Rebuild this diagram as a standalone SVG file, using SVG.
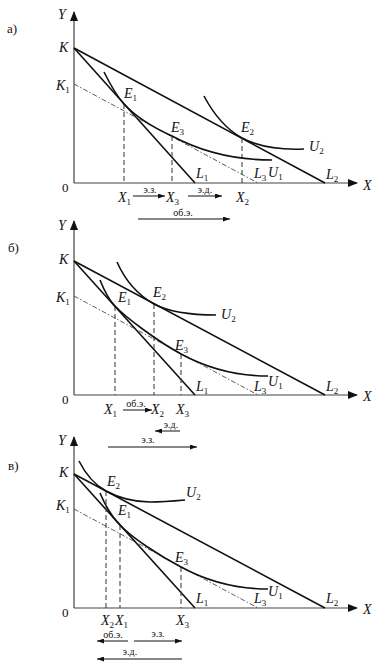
<svg xmlns="http://www.w3.org/2000/svg" width="385" height="666" viewBox="0 0 385 666">
<style>
.bg{fill:#fff}
.axis{stroke:#444;stroke-width:1.2;fill:none}
.line{stroke:#111;stroke-width:1.6;fill:none}
.curve{stroke:#111;stroke-width:1.6;fill:none}
.comp{stroke:#333;stroke-width:0.8;fill:none;stroke-dasharray:5 2 1.5 2}
.drop{stroke:#444;stroke-width:1.1;fill:none;stroke-dasharray:5 3}
.arr{stroke:#111;stroke-width:1;fill:none}
.v{font-family:"Liberation Serif","DejaVu Serif",serif;font-style:italic;font-size:14px;fill:#111}
.s{font-style:normal;font-size:9px}
.n{font-family:"Liberation Serif","DejaVu Serif",serif;font-size:13px;fill:#111}
.r{font-family:"Liberation Serif","DejaVu Serif",serif;font-size:10px;fill:#111;text-anchor:middle}
</style>
<defs>
<marker id="ax" markerUnits="userSpaceOnUse" markerWidth="10" markerHeight="8" refX="9" refY="4" orient="auto">
<path d="M0,0 L10,4 L0,8 Z" fill="#111"/>
</marker>
<marker id="sa" markerUnits="userSpaceOnUse" markerWidth="7" markerHeight="5" refX="7" refY="2.5" orient="auto">
<path d="M0,0 L7,2.5 L0,5 Z" fill="#111"/>
</marker>
</defs>
<rect class="bg" x="0" y="0" width="385" height="666"/>

<!-- Panel a -->
<g id="panel-a">
<text class="n" x="7" y="33">а)</text>
<g id="a-axes">
<line class="axis" x1="74" y1="183" x2="74" y2="12" marker-end="url(#ax)"/>
<line class="axis" x1="74" y1="183" x2="357" y2="183" marker-end="url(#ax)"/>
<text class="v" x="58" y="19">Y</text>
<text class="v" x="363" y="190">X</text>
<text class="n" x="62" y="192">0</text>
</g>
<g id="a-connectors">
<line class="line" x1="74" y1="48" x2="195" y2="183"/>
<line class="line" x1="74" y1="48" x2="325" y2="183"/>
<line class="comp" x1="74" y1="84" x2="258" y2="183"/>
<line class="drop" x1="124" y1="104" x2="124" y2="183"/>
<line class="drop" x1="172" y1="136" x2="172" y2="183"/>
<line class="drop" x1="242" y1="138" x2="242" y2="183"/>
<path class="curve" d="M104,72 C110,84 116,95 124,104 C136,117 152,127 172,136 C200,151 235,160 272,160"/>
<path class="curve" d="M204,96 C214,115 226,129 242,138 C260,147.7 280,150 304,149"/>
<line class="arr" x1="133" y1="196" x2="165" y2="196" marker-end="url(#sa)"/>
<line class="arr" x1="188" y1="196" x2="222" y2="196" marker-end="url(#sa)"/>
<line class="arr" x1="138" y1="219" x2="230" y2="219" marker-end="url(#sa)"/>
</g>
<g id="a-labels">
<text class="v" x="59" y="52">K</text>
<text class="v" x="56" y="90">K<tspan class="s" dy="3">1</tspan></text>
<text class="v" x="124" y="98">E<tspan class="s" dy="3">1</tspan></text>
<text class="v" x="171" y="132">E<tspan class="s" dy="3">3</tspan></text>
<text class="v" x="241" y="132">E<tspan class="s" dy="3">2</tspan></text>
<text class="v" x="309" y="151">U<tspan class="s" dy="3">2</tspan></text>
<text class="v" x="268" y="177">U<tspan class="s" dy="3">1</tspan></text>
<text class="v" x="196" y="178">L<tspan class="s" dy="2.5">1</tspan></text>
<text class="v" x="254" y="178">L<tspan class="s" dy="2.5">3</tspan></text>
<text class="v" x="326" y="179">L<tspan class="s" dy="2.5">2</tspan></text>
<text class="v" x="118" y="202">X<tspan class="s" dy="3">1</tspan></text>
<text class="v" x="166" y="202">X<tspan class="s" dy="3">3</tspan></text>
<text class="v" x="236" y="202">X<tspan class="s" dy="3">2</tspan></text>
<text class="r" x="150" y="193">э.з.</text>
<text class="r" x="205" y="193">э.д.</text>
<text class="r" x="183" y="216">об.э.</text>
</g>
</g>

<!-- Panel b -->
<g id="panel-b">
<text class="n" x="8" y="252">б)</text>
<g id="b-axes">
<line class="axis" x1="74" y1="395" x2="74" y2="221" marker-end="url(#ax)"/>
<line class="axis" x1="74" y1="395" x2="357" y2="395" marker-end="url(#ax)"/>
<text class="v" x="58" y="230">Y</text>
<text class="v" x="363" y="401">X</text>
<text class="n" x="62" y="404">0</text>
</g>
<g id="b-connectors">
<line class="line" x1="74" y1="261" x2="195" y2="395"/>
<line class="line" x1="74" y1="261" x2="325" y2="395"/>
<line class="comp" x1="74" y1="296" x2="258" y2="395"/>
<line class="drop" x1="115" y1="306" x2="115" y2="395"/>
<line class="drop" x1="154" y1="304" x2="154" y2="395"/>
<line class="drop" x1="181" y1="354" x2="181" y2="395"/>
<path class="curve" d="M100,280 C104,290 108,299 115,306 C126,318 159,342 181,354 C205,367 235,376 268,376"/>
<path class="curve" d="M117,262 C125,280 138,295 154,304 C170,312.5 190,315 216,315"/>
<line class="arr" x1="123" y1="410" x2="152" y2="410" marker-end="url(#sa)"/>
<line class="arr" x1="180" y1="431" x2="155" y2="431" marker-end="url(#sa)"/>
<line class="arr" x1="108" y1="447" x2="197" y2="447" marker-end="url(#sa)"/>
</g>
<g id="b-labels">
<text class="v" x="59" y="264">K</text>
<text class="v" x="56" y="302">K<tspan class="s" dy="3">1</tspan></text>
<text class="v" x="118" y="302">E<tspan class="s" dy="3">1</tspan></text>
<text class="v" x="153" y="297">E<tspan class="s" dy="3">2</tspan></text>
<text class="v" x="175" y="350">E<tspan class="s" dy="3">3</tspan></text>
<text class="v" x="221" y="319">U<tspan class="s" dy="3">2</tspan></text>
<text class="v" x="268" y="386">U<tspan class="s" dy="3">1</tspan></text>
<text class="v" x="196" y="391">L<tspan class="s" dy="2.5">1</tspan></text>
<text class="v" x="254" y="391">L<tspan class="s" dy="2.5">3</tspan></text>
<text class="v" x="326" y="391">L<tspan class="s" dy="2.5">2</tspan></text>
<text class="v" x="104" y="414">X<tspan class="s" dy="3">1</tspan></text>
<text class="v" x="151" y="414">X<tspan class="s" dy="3">2</tspan></text>
<text class="v" x="176" y="414">X<tspan class="s" dy="3">3</tspan></text>
<text class="r" x="136" y="407">об.э.</text>
<text class="r" x="171" y="428">э.д.</text>
<text class="r" x="148" y="443">э.з.</text>
</g>
</g>

<!-- Panel c -->
<g id="panel-c">
<text class="n" x="8" y="470">в)</text>
<g id="c-axes">
<line class="axis" x1="74" y1="608" x2="74" y2="437" marker-end="url(#ax)"/>
<line class="axis" x1="74" y1="608" x2="357" y2="608" marker-end="url(#ax)"/>
<text class="v" x="58" y="445">Y</text>
<text class="v" x="363" y="614">X</text>
<text class="n" x="62" y="617">0</text>
</g>
<g id="c-connectors">
<line class="line" x1="74" y1="474" x2="195" y2="608"/>
<line class="line" x1="74" y1="474" x2="325" y2="608"/>
<line class="comp" x1="74" y1="509" x2="258" y2="608"/>
<line class="drop" x1="106" y1="491" x2="106" y2="608"/>
<line class="drop" x1="120" y1="525" x2="120" y2="608"/>
<line class="drop" x1="181" y1="567" x2="181" y2="608"/>
<path class="curve" d="M79,461 C86,475 95,485 106,491 C122,499.5 135,502 150,502 C162,502 174,501 185,500"/>
<path class="curve" d="M100,493 C105,505 112,517 120,525 C132,538 160,556 181,567 C205,580 235,589 268,589"/>
<line class="arr" x1="128" y1="641" x2="97" y2="641" marker-end="url(#sa)"/>
<line class="arr" x1="134" y1="641" x2="182" y2="641" marker-end="url(#sa)"/>
<line class="arr" x1="182" y1="659" x2="97" y2="659" marker-end="url(#sa)"/>
</g>
<g id="c-labels">
<text class="v" x="59" y="477">K</text>
<text class="v" x="56" y="510">K<tspan class="s" dy="3">1</tspan></text>
<text class="v" x="107" y="486">E<tspan class="s" dy="3">2</tspan></text>
<text class="v" x="118" y="515">E<tspan class="s" dy="3">1</tspan></text>
<text class="v" x="175" y="562">E<tspan class="s" dy="3">3</tspan></text>
<text class="v" x="186" y="497">U<tspan class="s" dy="3">2</tspan></text>
<text class="v" x="268" y="596">U<tspan class="s" dy="3">1</tspan></text>
<text class="v" x="196" y="603">L<tspan class="s" dy="2.5">1</tspan></text>
<text class="v" x="254" y="603">L<tspan class="s" dy="2.5">3</tspan></text>
<text class="v" x="326" y="603">L<tspan class="s" dy="2.5">2</tspan></text>
<text class="v" x="101" y="625">X<tspan class="s" dy="3">2</tspan></text>
<text class="v" x="115" y="625">X<tspan class="s" dy="3">1</tspan></text>
<text class="v" x="176" y="625">X<tspan class="s" dy="3">3</tspan></text>
<text class="r" x="113" y="638">об.э.</text>
<text class="r" x="158" y="637">э.з.</text>
<text class="r" x="130" y="655">э.д.</text>
</g>
</g>
</svg>
